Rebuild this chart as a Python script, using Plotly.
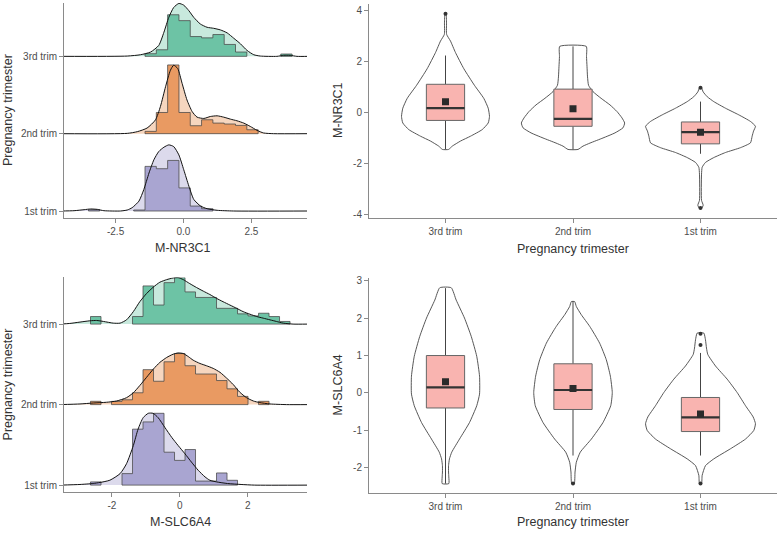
import plotly.graph_objects as go

W, H = 779, 533
FONT = "Liberation Sans, Arial, sans-serif"

# ---------------- data ----------------
groups_ridge = ["1st trim", "2nd trim", "3rd trim"]          # ridge baselines 1,2,3
cats_violin = ["3rd trim", "2nd trim", "1st trim"]          # violin positions 1,2,3

# M-NR3C1 ridge histograms (scaled heights per bin)
nr3c1_bin_start = -3.50
nr3c1_bin_width = 0.4167
nr3c1_hist_3rd = [0, 0, 0, 0, 0, .034, .085, .538, .462, .256, .239, .282, .154, .056, 0, 0, 0, .03]
nr3c1_hist_2nd = [0, 0, 0, 0, 0, .03, .274, .889, .274, .103, .18, .137, .125, .107, .051, 0, 0, 0]
nr3c1_hist_1st = [.015, 0, 0, 0, .013, .577, .547, .654, .299, .064, .03, 0, 0, 0, 0, 0, 0, 0]

# M-NR3C1 ridge densities (scaled)
nr3c1_dx_3rd = [-4.52, -2.07, -1.58, -1.21, -0.91, -0.72, -0.54, -0.36, -0.17, 0.01, 0.2, 0.38, 0.62, 0.87, 1.11,
                1.36, 1.61, 1.85, 2.1, 2.34, 2.59, 2.83, 3.44, 3.69, 3.93, 4.18, 4.61]
nr3c1_dy_3rd = [0, .004, .021, .056, .141, .312, .504, .632, .684, .662, .59, .504, .419, .376, .363,
                .342, .303, .235, .162, .077, .021, .004, 0, .013, .013, 0, 0]
nr3c1_dx_2nd = [-4.52, -2.07, -1.70, -1.34, -1.03, -0.85, -0.66, -0.48, -0.36, -0.21, -0.05, 0.13, 0.32, 0.50, 0.75,
                0.99, 1.24, 1.48, 1.73, 1.97, 2.22, 2.46, 2.71, 2.95, 3.32, 4.61]
nr3c1_dy_2nd = [0, .004, .026, .073, .179, .35, .607, .821, .885, .842, .65, .436, .286, .214, .197,
                .222, .231, .214, .188, .167, .137, .094, .043, .009, 0, 0]
nr3c1_dx_1st = [-4.52, -4.03, -3.66, -3.42, -3.17, -2.93, -2.32, -2.07, -1.89, -1.64, -1.46, -1.27, -1.09, -0.91,
                -0.72, -0.54, -0.36, -0.17, 0.01, 0.2, 0.38, 0.63, 0.87, 1.24, 1.85, 4.61]
nr3c1_dy_1st = [0, .004, .017, .026, .021, .004, 0, .013, .043, .128, .278, .491, .662, .769,
                .825, .855, .833, .726, .534, .321, .15, .064, .03, .009, 0, 0]

# M-SLC6A4 ridge histograms
slc_bin_start = -2.63
slc_bin_width = 0.309
slc_hist_3rd = [.094, 0, 0, 0, .094, .474, .237, .515, .577, .40, .331, .331, .196, .196, .127, .102, .135, .094, .033]
slc_hist_2nd = [.041, 0, .04, .06, .147, .434, .29, .532, .634, .483, .38, .38, .299, .196, .102, 0, .041, 0, 0]
slc_hist_1st = [.04, 0, 0, .143, .695, .785, .892, .409, .307, .442, .05, .05, .151, .06, 0, 0, 0, 0, 0]

slc_dx_3rd = [-3.53, -3.24, -2.94, -2.65, -2.45, -2.25, -1.96, -1.76, -1.57, -1.37, -1.18, -0.98, -0.78, -0.59, -0.39,
              -0.20, -0.05, 0.10, 0.29, 0.49, 0.69, 0.88, 1.08, 1.27, 1.47, 1.67, 1.86, 2.06, 2.26, 2.45, 2.65,
              2.84, 3.04, 3.33, 3.77]
slc_dy_3rd = [0, .008, .025, .041, .045, .033, .012, .012, .053, .155, .278, .38, .46, .52, .552,
              .573, .577, .552, .503, .454, .409, .368, .319, .278, .237, .196, .155, .123, .094, .074, .053,
              .033, .012, 0, 0]
slc_dx_2nd = [-3.53, -2.94, -2.55, -2.16, -1.86, -1.57, -1.37, -1.18, -0.98, -0.78, -0.59, -0.39, -0.20, -0.05, 0.10,
              0.245, 0.39, 0.59, 0.78, 0.98, 1.18, 1.37, 1.57, 1.76, 1.96, 2.16, 2.35, 2.65, 3.14, 3.77]
slc_dy_2nd = [0, .008, .02, .029, .045, .086, .147, .237, .339, .442, .524, .585, .626, .642, .634,
              .597, .552, .511, .483, .45, .401, .331, .249, .155, .086, .045, .025, .008, 0, 0]
slc_dx_1st = [-3.53, -2.94, -2.55, -2.35, -2.06, -1.76, -1.57, -1.37, -1.23, -1.08, -0.93, -0.79, -0.64, -0.44,
              -0.24, -0.05, 0.15, 0.34, 0.54, 0.74, 0.88, 1.08, 1.4, 1.8, 2.2, 3.77]
slc_dy_1st = [0, .008, .02, .033, .061, .143, .266, .491, .696, .838, .892, .892, .838, .715,
              .593, .491, .389, .286, .184, .102, .061, .04, .02, .008, 0, 0]

# Violin outlines: value levels and half-widths (category units)
nr3c1_vy_3rd = [3.89, 3.52, 3.07, 2.81, 2.36, 1.72, 1.07, 0.56, 0.17, -0.15, -0.41, -0.67, -0.93, -1.12, -1.32, -1.45]
nr3c1_vw_3rd = [.004, .008, .009, .039, .078, .144, .227, .3, .335, .345, .335, .288, .196, .118, .053, .024]
nr3c1_vy_2nd = [2.6, 2.2, 1.8, 1.4, 1.07, 0.82, 0.56, 0.3, 0.04, -0.21, -0.41, -0.6, -0.8, -1.0, -1.2, -1.32, -1.45]
nr3c1_vw_2nd = [.104, .106, .11, .114, .122, .157, .22, .29, .345, .384, .405, .392, .329, .235, .133, .078, .039]
nr3c1_vy_1st = [0.97, 0.81, 0.62, 0.43, 0.17, -0.09, -0.35, -0.54, -0.73, -0.93, -1.19, -1.38, -1.57, -1.77, -1.96,
                -2.15, -2.42, -3.45, -3.64, -3.77]
nr3c1_vw_1st = [.008, .021, .053, .104, .196, .3, .392, .431, .416, .405, .392, .314, .196, .104, .039,
                .013, .008, .008, .021, .008]

slc_vy_3rd = [2.81, 2.48, 2.0, 1.51, 0.98, 0.45, -0.03, -0.34, -0.79, -1.23, -1.58, -1.76, -1.94, -2.11, -2.24, -2.42]
slc_vw_3rd = [.045, .084, .149, .202, .245, .267, .267, .245, .188, .11, .049, .031, .024, .024, .026, .026]
slc_vy_2nd = [2.44, 2.31, 2.09, 1.78, 1.33, 0.89, 0.45, 0.01, -0.34, -0.79, -1.23, -1.58, -1.85, -2.11, -2.42]
slc_vw_2nd = [.013, .026, .065, .131, .209, .261, .293, .308, .296, .235, .144, .057, .026, .016, .01]
slc_vy_1st = [1.6, 1.42, 1.2, 1.03, 0.72, 0.37, 0.01, -0.34, -0.64, -0.82, -1.0, -1.23, -1.49, -1.76, -1.94, -2.2, -2.42]
slc_vw_1st = [.026, .039, .047, .057, .118, .209, .288, .353, .413, .431, .418, .353, .235, .104, .039, .013, .008]

# Box statistics (order: 3rd, 2nd, 1st)
nr3c1_q1 = [-0.31, -0.54, -1.23]
nr3c1_med = [0.17, -0.25, -0.77]
nr3c1_q3 = [1.11, 0.92, -0.37]
nr3c1_lo = [-1.45, -1.45, -1.62]
nr3c1_hi = [2.24, 2.6, 0.43]
nr3c1_mean = [0.42, 0.15, -0.77]
nr3c1_out_x = [1, 3, 3]
nr3c1_out_y = [3.88, 0.97, -3.75]

slc_q1 = [-0.40, -0.44, -1.03]
slc_med = [0.15, 0.08, -0.65]
slc_q3 = [1.0, 0.78, -0.12]
slc_lo = [-2.42, -1.67, -1.67]
slc_hi = [2.8, 2.44, 1.07]
slc_mean = [0.30, 0.12, -0.56]
slc_out_x = [2, 3, 3, 3]
slc_out_y = [-2.42, 1.58, 1.28, -2.42]

BOX_WIDTH = 0.3

# ---------------- styling ----------------
DARK = {"3rd": "#6DC3A5", "2nd": "#E99A62", "1st": "#A9A5D1"}
LIGHT = {"3rd": "#C8E9DD", "2nd": "#F6D6BF", "1st": "#DCDAEC"}
AXC = "#8a8a8a"
TXT = "#4d4d4d"

fig = go.Figure()


def hist_poly(start, width, heights, base):
    xs, ys = [], []
    n = len(heights)
    k = 0
    while k < n:
        if heights[k] <= 0:
            k += 1
            continue
        j = k
        while j + 1 < n and heights[j + 1] > 0:
            j += 1
        xs.append(start + k * width); ys.append(base)
        for m in range(k, j + 1):
            xs += [start + m * width, start + (m + 1) * width]
            ys += [base + heights[m], base + heights[m]]
        xs.append(start + (j + 1) * width); ys.append(base)
        xs.append(start + k * width); ys.append(base)
        xs.append(None); ys.append(None)
        k = j + 1
    return xs, ys


def add_ridges(ax, ay, start, width, hists, dens):
    for key, base in (("3rd", 3), ("2nd", 2), ("1st", 1)):
        dx, dy = dens[key]
        yy = [base + v for v in dy]
        fig.add_trace(go.Scatter(x=dx, y=yy, mode="lines", line=dict(width=0, shape="spline", smoothing=0.6),
                                 fill="toself", fillcolor=LIGHT[key], xaxis=ax, yaxis=ay, hoverinfo="skip"))
        hx, hy = hist_poly(start, width, hists[key], base)
        fig.add_trace(go.Scatter(x=hx, y=hy, mode="lines", line=dict(color="rgba(70,70,70,0.75)", width=1),
                                 fill="toself", fillcolor=DARK[key], xaxis=ax, yaxis=ay, hoverinfo="skip"))
        fig.add_trace(go.Scatter(x=dx, y=yy, mode="lines",
                                 line=dict(color="#111111", width=1, shape="spline", smoothing=0.6),
                                 xaxis=ax, yaxis=ay, hoverinfo="skip"))


add_ridges("x", "y", nr3c1_bin_start, nr3c1_bin_width,
           {"3rd": nr3c1_hist_3rd, "2nd": nr3c1_hist_2nd, "1st": nr3c1_hist_1st},
           {"3rd": (nr3c1_dx_3rd, nr3c1_dy_3rd), "2nd": (nr3c1_dx_2nd, nr3c1_dy_2nd),
            "1st": (nr3c1_dx_1st, nr3c1_dy_1st)})
add_ridges("x3", "y3", slc_bin_start, slc_bin_width,
           {"3rd": slc_hist_3rd, "2nd": slc_hist_2nd, "1st": slc_hist_1st},
           {"3rd": (slc_dx_3rd, slc_dy_3rd), "2nd": (slc_dx_2nd, slc_dy_2nd), "1st": (slc_dx_1st, slc_dy_1st)})


def add_violins(ax, ay, vio, q1, med, q3, lo, hi, mean, ox, oy):
    for pos, (vy, vw) in enumerate(vio, start=1):
        xs = [pos + w for w in vw] + [pos - w for w in vw[::-1]] + [pos + vw[0]]
        ys = list(vy) + list(vy[::-1]) + [vy[0]]
        fig.add_trace(go.Scatter(x=xs, y=ys, mode="lines", fill="toself", fillcolor="white",
                                 line=dict(color="#444444", width=0.9, shape="spline", smoothing=0.5),
                                 xaxis=ax, yaxis=ay, hoverinfo="skip"))
    pos = [1, 2, 3]
    half = BOX_WIDTH / 2
    # whiskers
    wx, wy = [], []
    for p, a, b, c, d in zip(pos, lo, q1, q3, hi):
        wx += [p, p, None, p, p, None]
        wy += [a, b, None, c, d, None]
    fig.add_trace(go.Scatter(x=wx, y=wy, mode="lines", line=dict(color="#444444", width=1),
                             xaxis=ax, yaxis=ay, hoverinfo="skip"))
    # boxes
    bx, by = [], []
    for p, a, b in zip(pos, q1, q3):
        bx += [p - half, p + half, p + half, p - half, p - half, None]
        by += [a, a, b, b, a, None]
    fig.add_trace(go.Scatter(x=bx, y=by, mode="lines", fill="toself", fillcolor="#F9B4B0",
                             line=dict(color="#666666", width=1), xaxis=ax, yaxis=ay, hoverinfo="skip"))
    # medians
    mx, my = [], []
    for p, m in zip(pos, med):
        mx += [p - half, p + half, None]
        my += [m, m, None]
    fig.add_trace(go.Scatter(x=mx, y=my, mode="lines", line=dict(color="#333333", width=2.2),
                             xaxis=ax, yaxis=ay, hoverinfo="skip"))
    fig.add_trace(go.Scatter(x=pos, y=mean, mode="markers", marker=dict(symbol="square", size=7, color="#2b2b2b"),
                             xaxis=ax, yaxis=ay, hoverinfo="skip"))
    fig.add_trace(go.Scatter(x=ox, y=oy, mode="markers", marker=dict(symbol="circle", size=4, color="#333333"),
                             xaxis=ax, yaxis=ay, hoverinfo="skip"))


add_violins("x2", "y2", [(nr3c1_vy_3rd, nr3c1_vw_3rd), (nr3c1_vy_2nd, nr3c1_vw_2nd), (nr3c1_vy_1st, nr3c1_vw_1st)],
            nr3c1_q1, nr3c1_med, nr3c1_q3, nr3c1_lo, nr3c1_hi, nr3c1_mean, nr3c1_out_x, nr3c1_out_y)
add_violins("x4", "y4", [(slc_vy_3rd, slc_vw_3rd), (slc_vy_2nd, slc_vw_2nd), (slc_vy_1st, slc_vw_1st)],
            slc_q1, slc_med, slc_q3, slc_lo, slc_hi, slc_mean, slc_out_x, slc_out_y)


def fx(px):
    return px / W


def fy(py):
    return 1 - py / H


axis_common = dict(showline=True, linecolor=AXC, linewidth=1, ticks="outside", ticklen=4, tickcolor=AXC,
                   showgrid=False, zeroline=False, tickfont=dict(family=FONT, size=10, color=TXT),
                   fixedrange=True)

fig.update_layout(
    width=W, height=H, margin=dict(l=0, r=0, t=0, b=0), paper_bgcolor="white", plot_bgcolor="white",
    showlegend=False, font=dict(family=FONT),
    xaxis=dict(domain=[fx(64), fx(307)], range=[-4.4, 4.55], anchor="y",
               tickvals=[-2.5, 0, 2.5], ticktext=["-2.5", "0.0", "2.5"], **axis_common),
    yaxis=dict(domain=[fy(217), fy(0)], range=[0.91, 3.69], anchor="x",
               tickvals=[1, 2, 3], ticktext=groups_ridge, **axis_common),
    xaxis3=dict(domain=[fx(64), fx(307)], range=[-3.41, 3.74], anchor="y3",
                tickvals=[-2, 0, 2], ticktext=["-2", "0", "2"], **axis_common),
    yaxis3=dict(domain=[fy(494), fy(277)], range=[0.91, 3.58], anchor="x3",
                tickvals=[1, 2, 3], ticktext=groups_ridge, **axis_common),
    xaxis2=dict(domain=[fx(369), fx(777)], range=[0.4, 3.6], anchor="y2",
                tickvals=[1, 2, 3], ticktext=cats_violin, **axis_common),
    yaxis2=dict(domain=[fy(216.7), fy(0.6)], range=[-4.13, 4.28], anchor="x2",
                tickvals=[-4, -2, 0, 2, 4], ticktext=["-4", "-2", "0", "2", "4"], **axis_common),
    xaxis4=dict(domain=[fx(369), fx(777)], range=[0.4, 3.6], anchor="y4",
                tickvals=[1, 2, 3], ticktext=cats_violin, **axis_common),
    yaxis4=dict(domain=[fy(495), fy(278)], range=[-2.68, 3.06], anchor="x4",
                tickvals=[-2, -1, 0, 1, 2, 3], ticktext=["-2", "-1", "0", "1", "2", "3"], **axis_common),
)

title_font = dict(family=FONT, size=12.5, color="#333333")
ann = [
    ("Pregnancy trimester", 8, 108, -90),
    ("Pregnancy trimester", 8, 385, -90),
    ("M-NR3C1", 183, 247, 0),
    ("M-SLC6A4", 180, 524, 0),
    ("M-NR3C1", 338, 108, -90),
    ("M-SLC6A4", 338, 386, -90),
    ("Pregnancy trimester", 573, 248, 0),
    ("Pregnancy trimester", 573, 524, 0),
]
for text, px, py, ang in ann:
    fig.add_annotation(text=text, x=fx(px), y=fy(py), xref="paper", yref="paper", showarrow=False,
                       textangle=ang, font=title_font, xanchor="center", yanchor="middle")

fig.write_html("out.html", config={"displayModeBar": False},
               post_script="document.body.style.margin='0px';document.body.style.padding='0px';")
